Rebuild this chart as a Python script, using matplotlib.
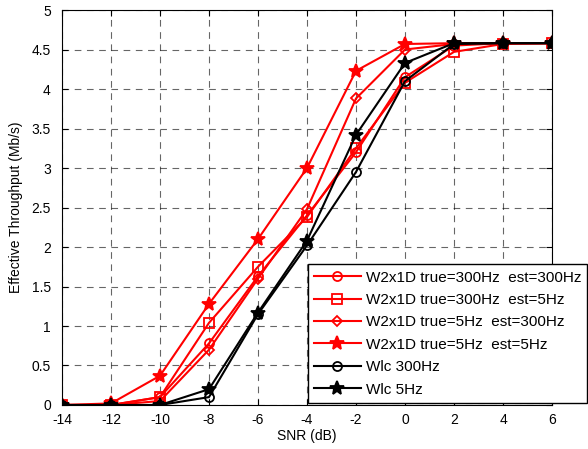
import matplotlib.pyplot as plt

plt.rcParams['font.family'] = ['Liberation Sans', 'DejaVu Sans']
plt.rcParams['axes.unicode_minus'] = False

snr = [-14, -12, -10, -8, -6, -4, -2, 0, 2, 4, 6]

w2_300_300 = [0, 0, 0.10, 0.78, 1.63, 2.40, 3.20, 4.15, 4.55, 4.58, 4.58]
w2_300_5 = [0, 0, 0.10, 1.04, 1.75, 2.38, 3.25, 4.08, 4.47, 4.57, 4.58]
w2_5_300 = [0, 0, 0.05, 0.70, 1.60, 2.48, 3.88, 4.50, 4.57, 4.58, 4.58]
w2_5_5 = [0, 0.02, 0.37, 1.28, 2.10, 3.00, 4.23, 4.57, 4.58, 4.58, 4.58]
wlc_300 = [0, 0, 0, 0.10, 1.15, 2.02, 2.95, 4.10, 4.57, 4.58, 4.58]
wlc_5 = [0, 0, 0, 0.20, 1.17, 2.08, 3.42, 4.33, 4.58, 4.58, 4.58]

labels = ["W2x1D true=300Hz  est=300Hz", "W2x1D true=300Hz  est=5Hz",
          "W2x1D true=5Hz  est=300Hz", "W2x1D true=5Hz  est=5Hz",
          "Wlc 300Hz", "Wlc 5Hz"]


def main():
    fig = plt.figure(figsize=(5.88, 4.49), dpi=100)
    ax = fig.add_axes([0.1054, 0.098, 0.8334, 0.8797])

    series = [
        (w2_300_300, "red", "o", "none", 6.5),
        (w2_300_5, "red", "s", "none", 6.5),
        (w2_5_300, "red", "D", "none", 5.5),
        (w2_5_5, "red", "*", "red", 10),
        (wlc_300, "black", "o", "none", 6.5),
        (wlc_5, "black", "*", "black", 10),
    ]
    for (y, c, m, fc, ms), lab in zip(series, labels):
        ax.plot(snr, y, color=c, marker=m, markerfacecolor=fc,
                markeredgecolor=c, markersize=ms, markeredgewidth=1.3,
                linewidth=1.5, label=lab)

    ax.set_xlim(-14, 6)
    ax.set_ylim(0, 5)
    ax.set_xticks(range(-14, 7, 2))
    ax.set_yticks([0, 0.5, 1, 1.5, 2, 2.5, 3, 3.5, 4, 4.5, 5])
    ax.set_yticklabels(["0", "0.5", "1", "1.5", "2", "2.5", "3", "3.5",
                        "4", "4.5", "5"])
    ax.tick_params(direction="in", labelsize=10, length=4, top=True, right=True)
    ax.tick_params(axis="x", pad=6)
    ax.tick_params(axis="y", pad=8)
    ax.grid(True, color="black", linestyle=(0, (6, 5)), linewidth=0.8, alpha=0.6)
    ax.set_xlabel("SNR (dB)", fontsize=10, labelpad=1)
    ax.set_ylabel("Effective Throughput (Mb/s)", fontsize=10, labelpad=6)

    ax.legend(loc="lower right", bbox_to_anchor=(1.072, 0.006), fontsize=11,
              frameon=True, fancybox=False, edgecolor="black",
              framealpha=1, borderaxespad=0, handlelength=3.1,
              labelspacing=0.55, borderpad=0.4, handletextpad=0.3)

    fig.savefig("out.png", dpi=100)


if __name__ == "__main__":
    main()
